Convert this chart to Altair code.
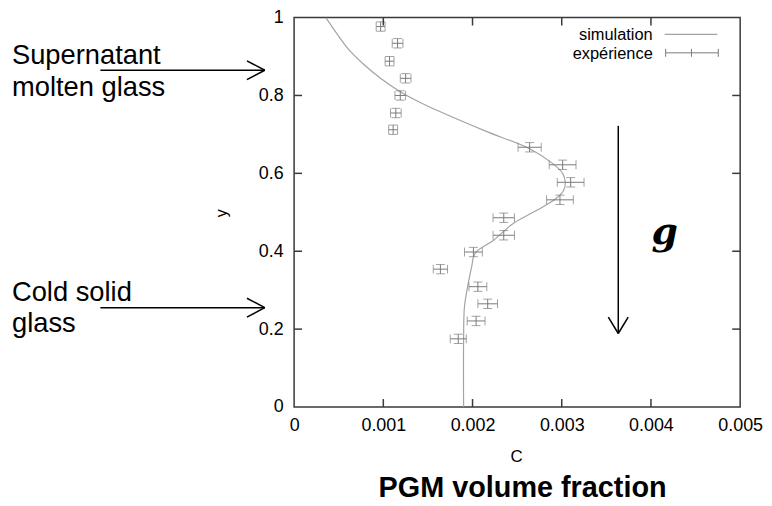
import altair as alt
import pandas as pd

# ---- data ----
sim_c = [0.000356, 0.000479, 0.000601, 0.000779, 0.000968, 0.00118, 0.00138, 0.00162,
         0.00214, 0.00264, 0.00290, 0.00301, 0.00304, 0.00302, 0.00294, 0.00272,
         0.00246, 0.00224, 0.00203, 0.00199, 0.00196, 0.00191, 0.00190, 0.00190]
sim_y = [1.000, 0.959, 0.921, 0.880, 0.844, 0.811, 0.786, 0.760,
         0.709, 0.663, 0.625, 0.600, 0.577, 0.556, 0.536, 0.505,
         0.472, 0.429, 0.395, 0.360, 0.327, 0.258, 0.173, 0.000]

exp_c = [0.00097, 0.00116, 0.00107, 0.00125, 0.00119, 0.00114, 0.00111,
         0.00264, 0.00301, 0.00310, 0.00298, 0.00235, 0.00235, 0.00201,
         0.00164, 0.00206, 0.00217, 0.00204, 0.00184]
exp_y = [0.977, 0.934, 0.888, 0.844, 0.800, 0.755, 0.712,
         0.667, 0.622, 0.577, 0.532, 0.486, 0.441, 0.398,
         0.354, 0.309, 0.265, 0.221, 0.175]
exp_c_err = [0.00005, 0.00006, 0.00005, 0.00006, 0.00006, 0.00006, 0.00005,
             0.00013, 0.00015, 0.00015, 0.00015, 0.00012, 0.00012, 0.00010,
             0.00008, 0.00010, 0.00011, 0.00010, 0.00009]
exp_y_err = [0.012] * 19

x_ticks = [0, 0.001, 0.002, 0.003, 0.004, 0.005]
y_ticks = [0, 0.2, 0.4, 0.6, 0.8, 1]

# ---- tables ----
df_sim = pd.DataFrame({"i": list(range(len(sim_c))), "c": sim_c, "y": sim_y})
df_exp = pd.DataFrame({"c": exp_c, "y": exp_y, "ec": exp_c_err, "ey": exp_y_err})
df_exp["c_lo"] = df_exp["c"] - df_exp["ec"]
df_exp["c_hi"] = df_exp["c"] + df_exp["ec"]
df_exp["y_lo"] = df_exp["y"] - df_exp["ey"]
df_exp["y_hi"] = df_exp["y"] + df_exp["ey"]
df_xt = pd.DataFrame({"v": x_ticks[1:-1]})
df_yt = pd.DataFrame({"v": y_ticks[1:-1]})
one = pd.DataFrame({"a": [0]})

W, H = 449, 392
FONT = "Liberation Sans"
GRAY = "#7a7a7a"
FRAME = "#3a3a3a"

x_scale = alt.Scale(domain=[0, 0.005], nice=False, zero=False)
y_scale = alt.Scale(domain=[0, 1], nice=False, zero=False)
x_axis = alt.Axis(values=x_ticks, format="~g", ticks=False, tickSize=0, domain=False,
                  grid=False, labelFontSize=18, labelFont=FONT, labelColor="black",
                  labelPadding=10, labelFlush=False, title=None)
y_axis = alt.Axis(values=y_ticks, format="~g", ticks=False, tickSize=0, domain=False,
                  grid=False, labelFontSize=18, labelFont=FONT, labelColor="black",
                  labelPadding=11, labelFlush=False, title=None)


def X(f):
    return alt.X(f, type="quantitative", scale=x_scale, axis=x_axis)


def Y(f):
    return alt.Y(f, type="quantitative", scale=y_scale, axis=y_axis)


curve = alt.Chart(df_sim).mark_line(color="#a3a3a3", strokeWidth=1.2,
                                    interpolate="catmull-rom", clip=True).encode(
    x=X("c"), y=Y("y"), order="i:Q")

hbar = alt.Chart(df_exp).mark_rule(color=GRAY, strokeWidth=1).encode(
    x=X("c_lo"), x2="c_hi", y=Y("y"))
vbar = alt.Chart(df_exp).mark_rule(color=GRAY, strokeWidth=1).encode(
    x=X("c"), y=Y("y_lo"), y2="y_hi")
cap_l = alt.Chart(df_exp).mark_tick(orient="vertical", size=9, thickness=1, color=GRAY).encode(
    x=X("c_lo"), y=Y("y"))
cap_r = alt.Chart(df_exp).mark_tick(orient="vertical", size=9, thickness=1, color=GRAY).encode(
    x=X("c_hi"), y=Y("y"))
cap_b = alt.Chart(df_exp).mark_tick(orient="horizontal", size=9, thickness=1, color=GRAY).encode(
    x=X("c"), y=Y("y_lo"))
cap_t = alt.Chart(df_exp).mark_tick(orient="horizontal", size=9, thickness=1, color=GRAY).encode(
    x=X("c"), y=Y("y_hi"))

# inward frame ticks
tk_b = alt.Chart(df_xt).mark_rule(color=FRAME, strokeWidth=1.5).encode(
    x=X("v"), y=alt.value(H), y2=alt.value(H - 8))
tk_t = alt.Chart(df_xt).mark_rule(color=FRAME, strokeWidth=1.5).encode(
    x=X("v"), y=alt.value(0), y2=alt.value(8))
tk_l = alt.Chart(df_yt).mark_rule(color=FRAME, strokeWidth=1.5).encode(
    y=Y("v"), x=alt.value(0), x2=alt.value(8))
tk_r = alt.Chart(df_yt).mark_rule(color=FRAME, strokeWidth=1.5).encode(
    y=Y("v"), x=alt.value(W), x2=alt.value(W - 8))


def seg(x1, y1, x2, y2, color="black", w=1.5):
    return alt.Chart(one).mark_rule(color=color, strokeWidth=w).encode(
        x=alt.value(x1), y=alt.value(y1), x2=alt.value(x2), y2=alt.value(y2))


def txt(s, x, y, size, align="left", baseline="alphabetic", **kw):
    return alt.Chart(one).mark_text(text=s, fontSize=size, align=align, baseline=baseline,
                                    font=kw.pop("font", FONT), color="black", **kw).encode(
        x=alt.value(x), y=alt.value(y))


deco = []
# legend
deco.append(txt("simulation", 361, 22.5, 16.5, align="right"))
deco.append(seg(373, 17, 426, 17, color="#a3a3a3", w=1.2))
deco.append(txt("expérience", 361, 41.5, 16.5, align="right"))
deco.append(seg(374, 35.5, 427, 35.5, color=GRAY, w=1))
for xx in (374, 400, 427):
    deco.append(seg(xx, 31.5, xx, 39.5, color=GRAY, w=1))

# axis titles
deco.append(txt("C", 224, 447, 17, align="center"))
deco.append(txt("y", -73, 197, 16, align="center", baseline="middle", angle=270))
deco.append(txt("PGM volume fraction", 230, 483, 29, align="center", fontWeight="bold"))

# left annotations
deco.append(txt("Supernatant", -284, 47, 27.5))
deco.append(txt("molten glass", -284, 79, 27.5))
deco.append(txt("Cold solid", -284, 285, 27.5))
deco.append(txt("glass", -284, 317, 27.5))
for ay in (53, 292):
    deco.append(seg(-195, ay, -29.5, ay))
    deco.append(seg(-29.5, ay, -47.5, ay - 9.5))
    deco.append(seg(-29.5, ay, -47.5, ay + 9.5))

# gravity arrow
deco.append(seg(326.3, 109, 326.3, 318))
deco.append(seg(326.3, 318, 316.3, 301.5))
deco.append(seg(326.3, 318, 336.3, 301.5))
deco.append(txt("g", 373, 228, 38, align="center", font="DejaVu Serif",
                fontWeight="bold", fontStyle="italic"))

chart = alt.layer(curve, hbar, vbar, cap_l, cap_r, cap_b, cap_t,
                  tk_b, tk_t, tk_l, tk_r, *deco).properties(
    width=W, height=H,
    autosize=alt.AutoSizeParams(type="none"),
    padding={"left": 288, "top": 8, "right": 24, "bottom": 97},
    background="white",
).configure_view(stroke=FRAME, strokeWidth=1.5)

chart.save("out.html", embed_options={"renderer": "svg", "actions": False})
